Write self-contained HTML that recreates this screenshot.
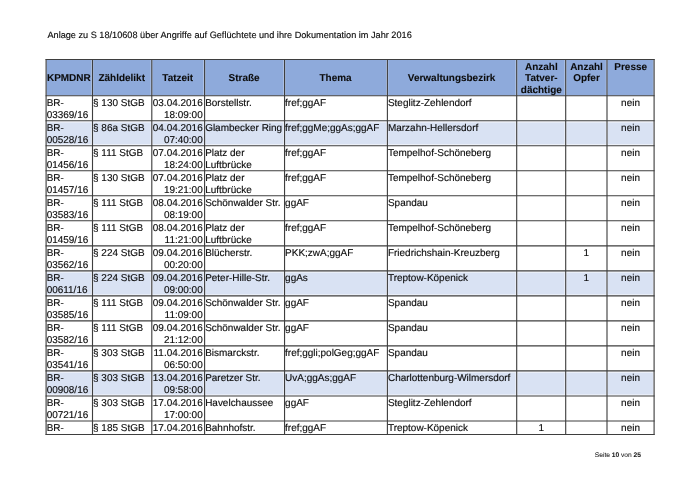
<!DOCTYPE html>
<html lang="de"><head><meta charset="utf-8"><title>Anlage zu S 18/10608</title>
<style>
html,body{margin:0;padding:0;background:#fff;}
body{width:700px;height:495px;overflow:hidden;}
svg{display:block;}
text{font-family:"Liberation Sans",sans-serif;text-rendering:geometricPrecision;fill:#0c0c0c;stroke:#0c0c0c;stroke-width:0.14px;}
.h text{font-weight:bold;stroke-width:0.08px;}
.f{stroke-width:0.05px;fill:#1a1a1a;stroke:#1a1a1a;}
</style></head><body>
<svg width="700" height="495" viewBox="0 0 700 495">
<rect width="700" height="495" fill="#fff"/>
<rect x="46.1" y="59.5" width="608.00" height="36.20" fill="#c1d0eb"/>
<rect x="47.00" y="59.70" width="44.30" height="35.40" fill="#8eaadb"/>
<rect x="93.40" y="59.70" width="57.20" height="35.40" fill="#8eaadb"/>
<rect x="152.70" y="59.70" width="50.70" height="35.40" fill="#8eaadb"/>
<rect x="205.50" y="59.70" width="77.85" height="35.40" fill="#8eaadb"/>
<rect x="285.45" y="59.70" width="100.75" height="35.40" fill="#8eaadb"/>
<rect x="388.30" y="59.70" width="127.20" height="35.40" fill="#8eaadb"/>
<rect x="517.60" y="59.70" width="46.90" height="35.40" fill="#8eaadb"/>
<rect x="566.60" y="59.70" width="39.20" height="35.40" fill="#8eaadb"/>
<rect x="607.90" y="59.70" width="45.00" height="35.40" fill="#8eaadb"/>
<rect x="46.1" y="120.72" width="608.00" height="25.02" fill="#f4f6fb"/>
<rect x="47.00" y="122.52" width="44.30" height="21.72" fill="#d9e2f3"/>
<rect x="93.40" y="122.52" width="57.20" height="21.72" fill="#d9e2f3"/>
<rect x="152.70" y="122.52" width="50.70" height="21.72" fill="#d9e2f3"/>
<rect x="205.50" y="122.52" width="77.85" height="21.72" fill="#d9e2f3"/>
<rect x="285.45" y="122.52" width="100.75" height="21.72" fill="#d9e2f3"/>
<rect x="388.30" y="122.52" width="127.20" height="21.72" fill="#d9e2f3"/>
<rect x="517.60" y="122.52" width="46.90" height="21.72" fill="#d9e2f3"/>
<rect x="566.60" y="122.52" width="39.20" height="21.72" fill="#d9e2f3"/>
<rect x="607.90" y="122.52" width="45.00" height="21.72" fill="#d9e2f3"/>
<rect x="46.1" y="270.84" width="608.00" height="25.02" fill="#f4f6fb"/>
<rect x="47.00" y="272.64" width="44.30" height="21.72" fill="#d9e2f3"/>
<rect x="93.40" y="272.64" width="57.20" height="21.72" fill="#d9e2f3"/>
<rect x="152.70" y="272.64" width="50.70" height="21.72" fill="#d9e2f3"/>
<rect x="205.50" y="272.64" width="77.85" height="21.72" fill="#d9e2f3"/>
<rect x="285.45" y="272.64" width="100.75" height="21.72" fill="#d9e2f3"/>
<rect x="388.30" y="272.64" width="127.20" height="21.72" fill="#d9e2f3"/>
<rect x="517.60" y="272.64" width="46.90" height="21.72" fill="#d9e2f3"/>
<rect x="566.60" y="272.64" width="39.20" height="21.72" fill="#d9e2f3"/>
<rect x="607.90" y="272.64" width="45.00" height="21.72" fill="#d9e2f3"/>
<rect x="46.1" y="370.92" width="608.00" height="25.02" fill="#f4f6fb"/>
<rect x="47.00" y="372.72" width="44.30" height="21.72" fill="#d9e2f3"/>
<rect x="93.40" y="372.72" width="57.20" height="21.72" fill="#d9e2f3"/>
<rect x="152.70" y="372.72" width="50.70" height="21.72" fill="#d9e2f3"/>
<rect x="205.50" y="372.72" width="77.85" height="21.72" fill="#d9e2f3"/>
<rect x="285.45" y="372.72" width="100.75" height="21.72" fill="#d9e2f3"/>
<rect x="388.30" y="372.72" width="127.20" height="21.72" fill="#d9e2f3"/>
<rect x="517.60" y="372.72" width="46.90" height="21.72" fill="#d9e2f3"/>
<rect x="566.60" y="372.72" width="39.20" height="21.72" fill="#d9e2f3"/>
<rect x="607.90" y="372.72" width="45.00" height="21.72" fill="#d9e2f3"/>
<g stroke="#3e3e3e" stroke-width="1.12" fill="none">
<line x1="46.1" y1="59.0" x2="46.1" y2="435.05"/>
<line x1="92.5" y1="59.0" x2="92.5" y2="435.05"/>
<line x1="151.8" y1="59.0" x2="151.8" y2="435.05"/>
<line x1="204.6" y1="59.0" x2="204.6" y2="435.05"/>
<line x1="284.55" y1="59.0" x2="284.55" y2="435.05"/>
<line x1="387.4" y1="59.0" x2="387.4" y2="435.05"/>
<line x1="516.7" y1="59.0" x2="516.7" y2="435.05"/>
<line x1="565.7" y1="59.0" x2="565.7" y2="435.05"/>
<line x1="607.0" y1="59.0" x2="607.0" y2="435.05"/>
<line x1="654.1" y1="59.0" x2="654.1" y2="435.05"/>
<line x1="45.6" y1="59.50" x2="654.6" y2="59.50"/>
<line x1="45.6" y1="95.70" x2="654.6" y2="95.70"/>
<line x1="45.6" y1="120.72" x2="654.6" y2="120.72"/>
<line x1="45.6" y1="145.74" x2="654.6" y2="145.74"/>
<line x1="45.6" y1="170.76" x2="654.6" y2="170.76"/>
<line x1="45.6" y1="195.78" x2="654.6" y2="195.78"/>
<line x1="45.6" y1="220.80" x2="654.6" y2="220.80"/>
<line x1="45.6" y1="245.82" x2="654.6" y2="245.82"/>
<line x1="45.6" y1="270.84" x2="654.6" y2="270.84"/>
<line x1="45.6" y1="295.86" x2="654.6" y2="295.86"/>
<line x1="45.6" y1="320.88" x2="654.6" y2="320.88"/>
<line x1="45.6" y1="345.90" x2="654.6" y2="345.90"/>
<line x1="45.6" y1="370.92" x2="654.6" y2="370.92"/>
<line x1="45.6" y1="395.94" x2="654.6" y2="395.94"/>
<line x1="45.6" y1="420.96" x2="654.6" y2="420.96"/>
<line x1="45.6" y1="434.55" x2="654.6" y2="434.55"/>
</g>
<text class="t" x="47.45" y="37.75" font-size="9.172">Anlage zu S 18/10608 über Angriffe auf Geflüchtete und ihre Dokumentation im Jahr 2016</text>
<g class="h" font-size="9.978">
<text x="68.85" y="80.60" text-anchor="middle">KPMDNR</text>
<text x="121.70" y="80.60" text-anchor="middle">Zähldelikt</text>
<text x="177.75" y="80.60" text-anchor="middle">Tatzeit</text>
<text x="244.12" y="80.60" text-anchor="middle">Straße</text>
<text x="335.53" y="80.60" text-anchor="middle">Thema</text>
<text x="451.60" y="80.60" text-anchor="middle">Verwaltungsbezirk</text>
<text x="541.35" y="69.70" text-anchor="middle">Anzahl</text>
<text x="541.35" y="81.17" text-anchor="middle">Tatver-</text>
<text x="541.35" y="92.64" text-anchor="middle">dächtige</text>
<text x="586.50" y="69.70" text-anchor="middle">Anzahl</text>
<text x="586.50" y="81.17" text-anchor="middle">Opfer</text>
<text x="630.70" y="69.70" text-anchor="middle">Presse</text>
</g>
<g class="t" font-size="9.978">
<text x="46.65" y="106.05">BR-</text>
<text x="46.65" y="117.80">03369/16</text>
<text x="93.05" y="106.05">§ 130 StGB</text>
<text x="202.70" y="106.05" text-anchor="end">03.04.2016</text>
<text x="202.70" y="117.80" text-anchor="end">18:09:00</text>
<text x="205.15" y="106.05">Borstellstr.</text>
<text x="285.10" y="106.05">fref;ggAF</text>
<text x="387.95" y="106.05">Steglitz-Zehlendorf</text>
<text x="630.55" y="106.05" text-anchor="middle">nein</text>
<text x="46.65" y="131.07">BR-</text>
<text x="46.65" y="142.82">00528/16</text>
<text x="93.05" y="131.07">§ 86a StGB</text>
<text x="202.70" y="131.07" text-anchor="end">04.04.2016</text>
<text x="202.70" y="142.82" text-anchor="end">07:40:00</text>
<text x="205.15" y="131.07">Glambecker Ring</text>
<text x="285.10" y="131.07">fref;ggMe;ggAs;ggAF</text>
<text x="387.95" y="131.07">Marzahn-Hellersdorf</text>
<text x="630.55" y="131.07" text-anchor="middle">nein</text>
<text x="46.65" y="156.09">BR-</text>
<text x="46.65" y="167.84">01456/16</text>
<text x="93.05" y="156.09">§ 111 StGB</text>
<text x="202.70" y="156.09" text-anchor="end">07.04.2016</text>
<text x="202.70" y="167.84" text-anchor="end">18:24:00</text>
<text x="205.15" y="156.09">Platz der</text>
<text x="205.15" y="167.84">Luftbrücke</text>
<text x="285.10" y="156.09">fref;ggAF</text>
<text x="387.95" y="156.09">Tempelhof-Schöneberg</text>
<text x="630.55" y="156.09" text-anchor="middle">nein</text>
<text x="46.65" y="181.11">BR-</text>
<text x="46.65" y="192.86">01457/16</text>
<text x="93.05" y="181.11">§ 130 StGB</text>
<text x="202.70" y="181.11" text-anchor="end">07.04.2016</text>
<text x="202.70" y="192.86" text-anchor="end">19:21:00</text>
<text x="205.15" y="181.11">Platz der</text>
<text x="205.15" y="192.86">Luftbrücke</text>
<text x="285.10" y="181.11">fref;ggAF</text>
<text x="387.95" y="181.11">Tempelhof-Schöneberg</text>
<text x="630.55" y="181.11" text-anchor="middle">nein</text>
<text x="46.65" y="206.13">BR-</text>
<text x="46.65" y="217.88">03583/16</text>
<text x="93.05" y="206.13">§ 111 StGB</text>
<text x="202.70" y="206.13" text-anchor="end">08.04.2016</text>
<text x="202.70" y="217.88" text-anchor="end">08:19:00</text>
<text x="205.15" y="206.13">Schönwalder Str.</text>
<text x="285.10" y="206.13">ggAF</text>
<text x="387.95" y="206.13">Spandau</text>
<text x="630.55" y="206.13" text-anchor="middle">nein</text>
<text x="46.65" y="231.15">BR-</text>
<text x="46.65" y="242.90">01459/16</text>
<text x="93.05" y="231.15">§ 111 StGB</text>
<text x="202.70" y="231.15" text-anchor="end">08.04.2016</text>
<text x="202.70" y="242.90" text-anchor="end">11:21:00</text>
<text x="205.15" y="231.15">Platz der</text>
<text x="205.15" y="242.90">Luftbrücke</text>
<text x="285.10" y="231.15">fref;ggAF</text>
<text x="387.95" y="231.15">Tempelhof-Schöneberg</text>
<text x="630.55" y="231.15" text-anchor="middle">nein</text>
<text x="46.65" y="256.17">BR-</text>
<text x="46.65" y="267.92">03562/16</text>
<text x="93.05" y="256.17">§ 224 StGB</text>
<text x="202.70" y="256.17" text-anchor="end">09.04.2016</text>
<text x="202.70" y="267.92" text-anchor="end">00:20:00</text>
<text x="205.15" y="256.17">Blücherstr.</text>
<text x="285.10" y="256.17">PKK;zwA;ggAF</text>
<text x="387.95" y="256.17">Friedrichshain-Kreuzberg</text>
<text x="586.35" y="256.17" text-anchor="middle">1</text>
<text x="630.55" y="256.17" text-anchor="middle">nein</text>
<text x="46.65" y="281.19">BR-</text>
<text x="46.65" y="292.94">00611/16</text>
<text x="93.05" y="281.19">§ 224 StGB</text>
<text x="202.70" y="281.19" text-anchor="end">09.04.2016</text>
<text x="202.70" y="292.94" text-anchor="end">09:00:00</text>
<text x="205.15" y="281.19">Peter-Hille-Str.</text>
<text x="285.10" y="281.19">ggAs</text>
<text x="387.95" y="281.19">Treptow-Köpenick</text>
<text x="586.35" y="281.19" text-anchor="middle">1</text>
<text x="630.55" y="281.19" text-anchor="middle">nein</text>
<text x="46.65" y="306.21">BR-</text>
<text x="46.65" y="317.96">03585/16</text>
<text x="93.05" y="306.21">§ 111 StGB</text>
<text x="202.70" y="306.21" text-anchor="end">09.04.2016</text>
<text x="202.70" y="317.96" text-anchor="end">11:09:00</text>
<text x="205.15" y="306.21">Schönwalder Str.</text>
<text x="285.10" y="306.21">ggAF</text>
<text x="387.95" y="306.21">Spandau</text>
<text x="630.55" y="306.21" text-anchor="middle">nein</text>
<text x="46.65" y="331.23">BR-</text>
<text x="46.65" y="342.98">03582/16</text>
<text x="93.05" y="331.23">§ 111 StGB</text>
<text x="202.70" y="331.23" text-anchor="end">09.04.2016</text>
<text x="202.70" y="342.98" text-anchor="end">21:12:00</text>
<text x="205.15" y="331.23">Schönwalder Str.</text>
<text x="285.10" y="331.23">ggAF</text>
<text x="387.95" y="331.23">Spandau</text>
<text x="630.55" y="331.23" text-anchor="middle">nein</text>
<text x="46.65" y="356.25">BR-</text>
<text x="46.65" y="368.00">03541/16</text>
<text x="93.05" y="356.25">§ 303 StGB</text>
<text x="202.70" y="356.25" text-anchor="end">11.04.2016</text>
<text x="202.70" y="368.00" text-anchor="end">06:50:00</text>
<text x="205.15" y="356.25">Bismarckstr.</text>
<text x="285.10" y="356.25">fref;ggli;polGeg;ggAF</text>
<text x="387.95" y="356.25">Spandau</text>
<text x="630.55" y="356.25" text-anchor="middle">nein</text>
<text x="46.65" y="381.27">BR-</text>
<text x="46.65" y="393.02">00908/16</text>
<text x="93.05" y="381.27">§ 303 StGB</text>
<text x="202.70" y="381.27" text-anchor="end">13.04.2016</text>
<text x="202.70" y="393.02" text-anchor="end">09:58:00</text>
<text x="205.15" y="381.27">Paretzer Str.</text>
<text x="285.10" y="381.27">UvA;ggAs;ggAF</text>
<text x="387.95" y="381.27">Charlottenburg-Wilmersdorf</text>
<text x="630.55" y="381.27" text-anchor="middle">nein</text>
<text x="46.65" y="406.29">BR-</text>
<text x="46.65" y="418.04">00721/16</text>
<text x="93.05" y="406.29">§ 303 StGB</text>
<text x="202.70" y="406.29" text-anchor="end">17.04.2016</text>
<text x="202.70" y="418.04" text-anchor="end">17:00:00</text>
<text x="205.15" y="406.29">Havelchaussee</text>
<text x="285.10" y="406.29">ggAF</text>
<text x="387.95" y="406.29">Steglitz-Zehlendorf</text>
<text x="630.55" y="406.29" text-anchor="middle">nein</text>
<text x="46.65" y="431.31">BR-</text>
<text x="93.05" y="431.31">§ 185 StGB</text>
<text x="202.70" y="431.31" text-anchor="end">17.04.2016</text>
<text x="205.15" y="431.31">Bahnhofstr.</text>
<text x="285.10" y="431.31">fref;ggAF</text>
<text x="387.95" y="431.31">Treptow-Köpenick</text>
<text x="541.20" y="431.31" text-anchor="middle">1</text>
<text x="630.55" y="431.31" text-anchor="middle">nein</text>
</g>
<text class="f" x="594.8" y="456.55" font-size="6.65">Seite <tspan font-weight="bold">10</tspan> von <tspan font-weight="bold">25</tspan></text>
</svg>
</body></html>
